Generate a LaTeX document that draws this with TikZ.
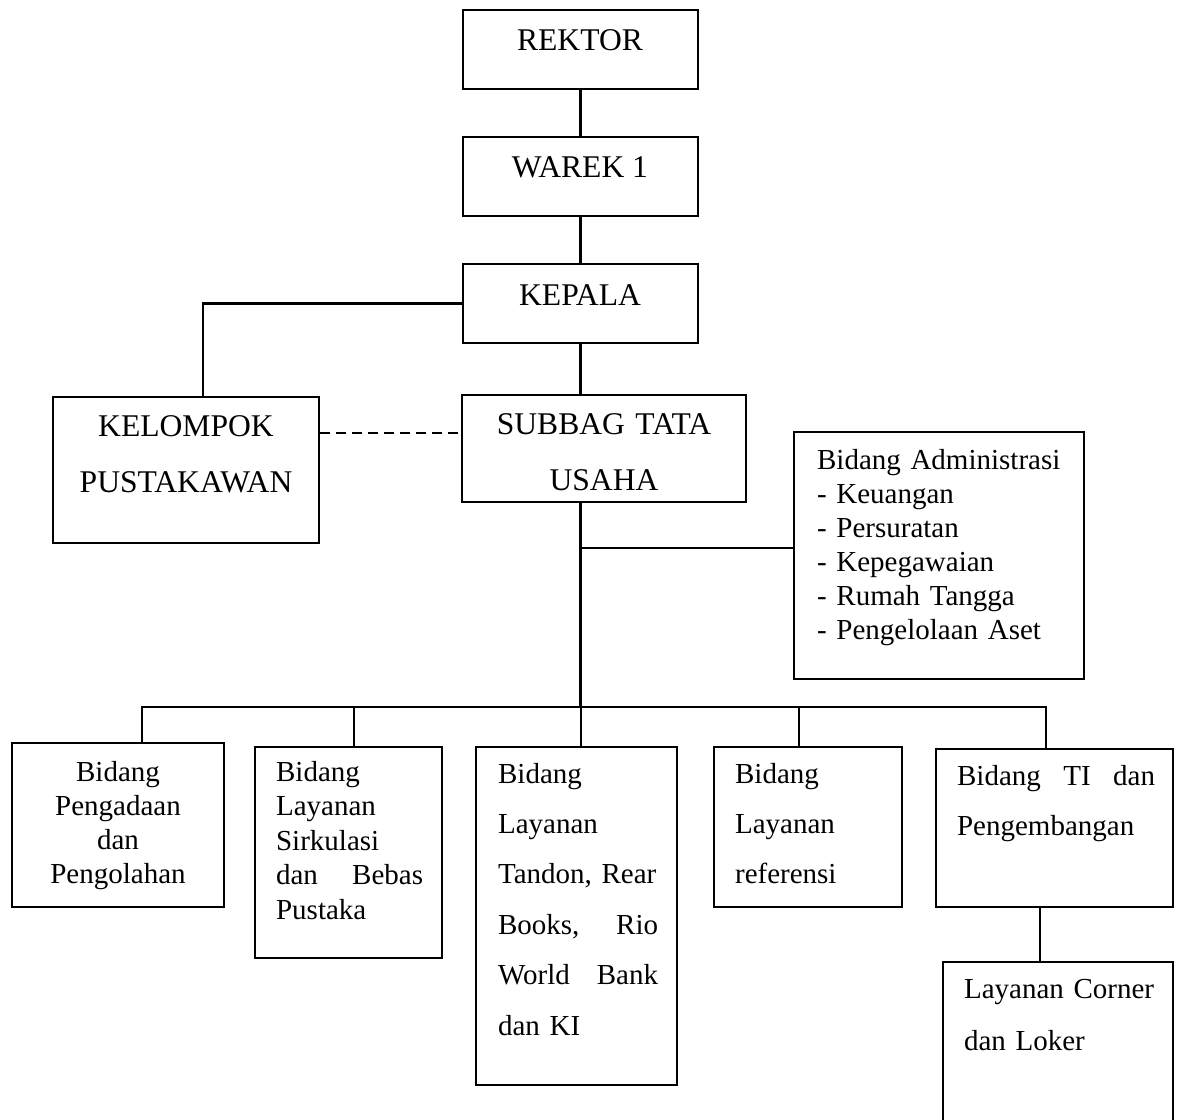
\documentclass[tikz,border=0pt]{standalone}
\usepackage{fontspec}
\setmainfont{Liberation Serif}
\usetikzlibrary{fit,calc}
\tikzset{
	kotak/.style={draw, inner sep=0pt, line width=.8pt},
	judul/.style={inner sep=0pt, anchor=base, font=\fontsize{15.8}{28}\selectfont},
	isi/.style={inner sep=0pt, anchor=base west, align=left, font=\fontsize{14.5}{#1}\selectfont},
}
\begin{document}
\begin{tikzpicture}[x=.5pt, y=-.5pt, line width=1.1pt]
	\useasboundingbox (0,0) rectangle (1179,1120);
	% kotak-kotak
	\node[kotak, fit={(463,10) (698,89)}]    (rektor)   {};
	\node[kotak, fit={(463,137) (698,216)}]  (warek)    {};
	\node[kotak, fit={(463,264) (698,343)}]  (kepala)   {};
	\node[kotak, fit={(53,397) (319,543)}]   (kelompok) {};
	\node[kotak, fit={(462,395) (746,502)}]  (subbag)   {};
	\node[kotak, fit={(794,432) (1084,679)}] (admin)    {};
	\node[kotak, fit={(12,743) (224,907)}]   (b1) {};
	\node[kotak, fit={(255,747) (442,958)}]  (b2) {};
	\node[kotak, fit={(476,747) (677,1085)}] (b3) {};
	\node[kotak, fit={(714,747) (902,907)}]  (b4) {};
	\node[kotak, fit={(936,749) (1173,907)}] (b5) {};
	\node[kotak, fit={(943,962) (1173,1130)}] (b6) {};
	% teks
	\node[judul] (trektor) at (580,50)  {REKTOR};
	\node[judul] (twarek)  at (580,177) {WAREK 1};
	\node[judul] (tkepala) at (580,305) {KEPALA};
	\node[judul, text width=140pt, align=center] (tkelompok) at (186,436) {KELOMPOK\\PUSTAKAWAN};
	\node[judul, text width=140pt, align=center] (tsubbag)   at (604,434) {SUBBAG TATA\\USAHA};
	\node[isi=17, text width=135pt] (tadmin) at (816,469) {Bidang Administrasi\\- Keuangan\\- Persuratan\\- Kepegawaian\\- Rumah Tangga\\- Pengelolaan Aset};
	\node[isi=17, anchor=base, text width=100pt, align=center] (tb1) at (118,781) {Bidang\\Pengadaan\\dan\\Pengolahan};
	\node[isi=17.3, text width=73.5pt] (tb2) at (275,781) {Bidang\\Layanan\\Sirkulasi\\dan \hfill Bebas\\Pustaka};
	\node[isi=25.2, text width=80pt]   (tb3) at (497,783) {Bidang\\Layanan\\Tandon, Rear\\Books, \hfill Rio\\World \hfill Bank\\dan KI};
	\node[isi=25, text width=80pt]     (tb4) at (734,783) {Bidang\\Layanan\\referensi};
	\node[isi=25.3, text width=99pt]   (tb5) at (956,785) {Bidang \hfill TI \hfill dan\\Pengembangan};
	\node[isi=26, text width=105pt]    (tb6) at (963,998) {Layanan Corner\\dan Loker};
	% garis
	\draw (rektor.south) -- (warek.north);
	\draw (warek.south) -- (kepala.north);
	\coordinate (kiri) at ($(kelompok.north west)!.564!(kelompok.north east)$);
	\draw (kepala.west) -| (kiri);
	\draw (kepala.south) -- (kepala.south |- subbag.north);
	\coordinate (putus) at ($(kelompok.north east)!.25!(kelompok.south east)$);
	\draw[dash pattern=on 5pt off 3pt] (putus) -- (putus -| subbag.west);
	\coordinate (cabang) at (580.5,707);
	\coordinate (adm) at (580.5,548);
	\draw (kepala.south |- subbag.south) -- (cabang);
	\draw (adm) -- (adm -| admin.west);
	\foreach \b/\dx in {b1/12pt, b2/2.75pt, b3/2.25pt, b4/-4.5pt, b5/-4.25pt}
		\draw ([xshift=\dx]\b.north) |- (cabang);
	\coordinate (ti) at ([xshift=-7.25pt]b5.south);
	\draw (ti) -- (ti |- b6.north);
\end{tikzpicture}
\end{document}
